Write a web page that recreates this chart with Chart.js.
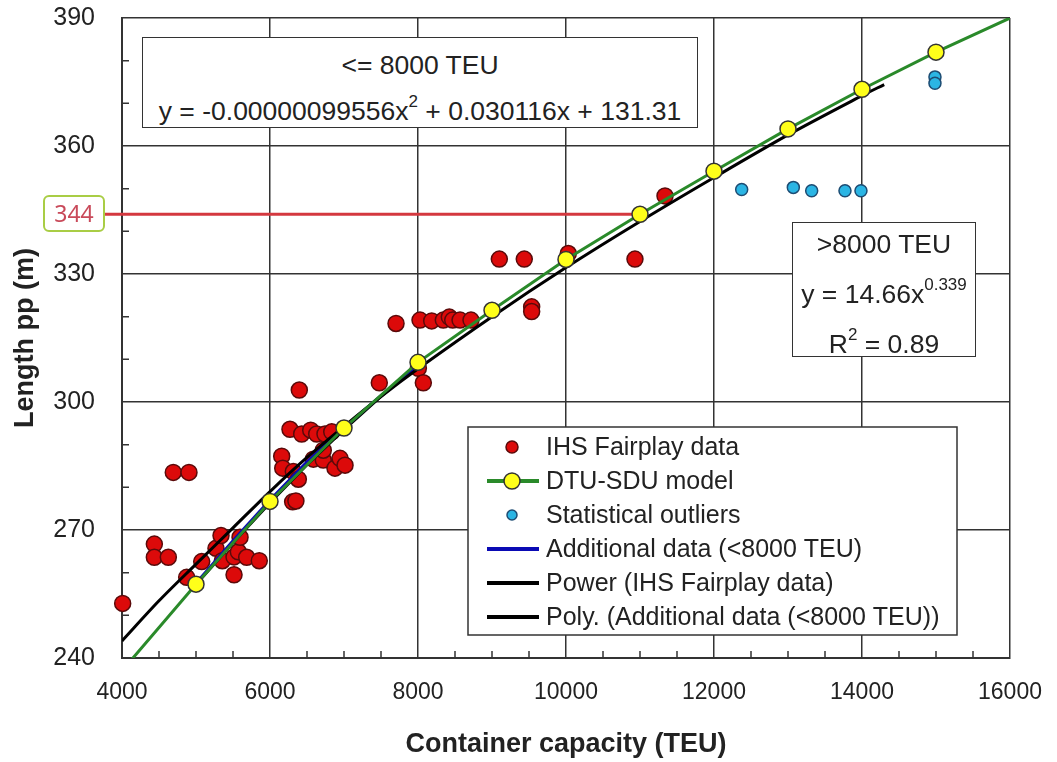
<!DOCTYPE html>
<html>
<head>
<meta charset="utf-8">
<title>Length pp vs container capacity</title>
<script src="https://cdn.jsdelivr.net/npm/chart.js@4.4.1/dist/chart.umd.min.js"></script>
<style>
  html, body { margin: 0; padding: 0; background: #fff; }
  #wrap { position: relative; width: 1057px; height: 762px; font-family: "Liberation Sans", Arial, sans-serif; }
  #chart { position: absolute; left: 0; top: 0; }
  .note { position: absolute; background: #fff; border: 1.5px solid #333; color: #222; font-size: 26.5px; text-align: center; box-sizing: border-box; white-space: nowrap; }
  .note sup { font-size: 17px; position: relative; top: -3px; }
  #note1 { left: 142px; top: 37px; width: 556px; height: 91px; line-height: 40px; padding-top: 7px; }
  #note2 { left: 792px; top: 222px; width: 184px; height: 135px; line-height: 43px; padding-top: 0; }
  #lbl344 { position: absolute; left: 43px; top: 195px; width: 62px; height: 37px; box-sizing: border-box;
            border: 2.5px solid #a9cd45; border-radius: 6px; color: #c94a5a;
            font: 23px "Noto Sans", sans-serif; text-align: center; line-height: 32px; }
</style>
</head>
<body>
<div id="wrap">
  <canvas id="chart" width="1057" height="762"></canvas>
  <div class="note" id="note1">&lt;= 8000 TEU<br>y = -0.00000099556x<sup>2</sup> + 0.030116x + 131.31</div>
  <div class="note" id="note2">&gt;8000 TEU<br>y = 14.66x<sup>0.339</sup><br>R<sup>2</sup> = 0.89</div>
  <div id="lbl344">344</div>
</div>
<script>
// ---- data ----
const ihsTEU = [4009, 4437, 4437, 4626, 4693, 4905, 4874, 5077, 5270, 5338, 5356, 5514, 5514, 5572, 5595, 5685, 5855,
  6158, 6172, 6270, 6306, 6350, 6315, 6383, 6396, 6428, 6550, 6586, 6631, 6720, 6720, 6743, 6834, 6878, 6946, 7014,
  7477, 7703, 8005, 8027, 8072, 8185, 8342, 8423, 8469, 8568, 8716, 9099, 9436, 9536, 9536, 10031, 10932, 11338];
const ihsLength = [252.8, 266.7, 263.6, 263.6, 283.5, 283.5, 258.9, 262.6, 265.7, 268.7, 262.8, 263.7, 259.5, 264.9, 268.3, 263.6, 262.8,
  287.3, 284.5, 293.6, 276.6, 276.8, 283.7, 281.9, 302.8, 292.5, 293.4, 286.6, 292.5, 286.4, 288.7, 292.5, 293.0, 284.5, 286.8, 285.2,
  304.5, 318.4, 307.9, 319.2, 304.5, 319.0, 319.2, 319.9, 319.2, 319.2, 319.2, 333.5, 333.5, 322.3, 321.2, 334.8, 333.5, 348.3];

const modelTEU = [4000, 5000, 6000, 7000, 8000, 9000, 10000, 11000, 12000, 13000, 14000, 15000, 16000];
const modelLength = [237, 257.3, 276.7, 293.9, 309.3, 321.5, 333.4, 344, 354.1, 364, 373.3, 382, 390];

const outlierTEU = [12374, 13072, 13320, 13770, 13986, 14986, 14986];
const outlierLength = [349.8, 350.3, 349.5, 349.5, 349.5, 376.2, 374.7];

const addTEU = [5000, 5500, 6000, 6500, 7000, 7500, 8000];
const addLength = [257.5, 267.5, 277, 286, 294, 301.5, 308.5];

const powerTEU = [4000, 4500, 5000, 5500, 6000, 6500, 7000, 7500, 8000, 9000, 10000, 11000, 12000, 13000, 14000, 14300];
const powerLength = [244, 253.4, 262, 270.5, 279, 287, 294.3, 301.3, 307.8, 320, 331.5, 342.3, 352.6, 362.6, 371.8, 374.4];

const polyTEU = [5000, 5500, 6000, 6500, 7000, 7500, 8000];
const polyLength = [257.2, 267, 276.4, 285.3, 293.5, 301.3, 308.6];

const refTEU = 11000;
const refLength = 344;

const xMin = 4000, xMax = 16000, xMajor = 2000, xMinor = 500;
const yMin = 240, yMax = 390, yMajor = 30, yMinor = 10;

const legendOrder = [0, 1, 2, 3, 4, 5];

function pts(xs, ys) { return xs.map((x, i) => ({ x, y: ys[i] })); }

// ---- plugins ----
const minorTicks = {
  id: 'minorTicks',
  beforeDatasetsDraw(chart) {
    const { ctx, chartArea, scales } = chart;
    ctx.save();
    ctx.strokeStyle = '#333';
    ctx.lineWidth = 1.5;
    ctx.beginPath();
    scales.x.ticks.forEach(t => {
      if (t.value % xMajor === 0) return;
      const px = scales.x.getPixelForValue(t.value);
      ctx.moveTo(px, chartArea.bottom);
      ctx.lineTo(px, chartArea.bottom - 7);
    });
    scales.y.ticks.forEach(t => {
      if ((t.value - yMin) % yMajor === 0) return;
      const py = scales.y.getPixelForValue(t.value);
      ctx.moveTo(chartArea.left, py);
      ctx.lineTo(chartArea.left + 7, py);
    });
    ctx.stroke();
    ctx.restore();
  }
};

const refLine = {
  id: 'refLine',
  beforeDatasetsDraw(chart) {
    const { ctx, scales } = chart;
    const py = scales.y.getPixelForValue(refLength);
    const px = scales.x.getPixelForValue(refTEU);
    ctx.save();
    ctx.strokeStyle = '#d4383f';
    ctx.lineWidth = 3;
    ctx.beginPath();
    ctx.moveTo(105, py);
    ctx.lineTo(px, py);
    ctx.stroke();
    ctx.restore();
  }
};

const boxLegend = {
  id: 'boxLegend',
  afterDraw(chart) {
    const { ctx } = chart;
    const left = 468, top = 427, right = 957, bottom = 635;
    ctx.save();
    ctx.fillStyle = '#fff';
    ctx.fillRect(left, top, right - left, bottom - top);
    ctx.strokeStyle = '#333';
    ctx.lineWidth = 1.5;
    ctx.strokeRect(left, top, right - left, bottom - top);
    ctx.font = '25px "Liberation Sans", Arial, sans-serif';
    ctx.textBaseline = 'middle';
    legendOrder.forEach((idx, i) => {
      const ds = chart.data.datasets[idx];
      const y = top + 20 + i * 34;
      if (ds.showLine) {
        ctx.strokeStyle = ds.borderColor;
        ctx.lineWidth = 4;
        ctx.beginPath();
        ctx.moveTo(487, y);
        ctx.lineTo(539, y);
        ctx.stroke();
      }
      if (ds.legendRadius) {
        ctx.beginPath();
        ctx.arc(512, y, ds.legendRadius, 0, Math.PI * 2);
        ctx.fillStyle = ds.pointBackgroundColor;
        ctx.fill();
        ctx.strokeStyle = ds.pointBorderColor;
        ctx.lineWidth = 1.5;
        ctx.stroke();
      }
      ctx.fillStyle = '#222';
      ctx.fillText(ds.label, 546, y + 1);
    });
    ctx.restore();
  }
};

// ---- chart ----
const xTickFont = { family: '"Liberation Sans", Arial, sans-serif', size: 23 };
const yTickFont = { family: '"Liberation Sans", Arial, sans-serif', size: 25 };
const titleFont = { family: '"Liberation Sans", Arial, sans-serif', size: 27, weight: 'bold' };

new Chart(document.getElementById('chart'), {
  type: 'scatter',
  data: {
    datasets: [
      { label: 'IHS Fairplay data', data: pts(ihsTEU, ihsLength), order: 6, clip: false,
        pointRadius: 8, pointBackgroundColor: '#dc0a0a', pointBorderColor: '#5a0a0a', pointBorderWidth: 1.5,
        legendRadius: 6 },
      { label: 'DTU-SDU model', data: pts(modelTEU, modelLength), order: 0, showLine: true,
        borderColor: '#2a8a2a', borderWidth: 3,
        pointRadius: modelTEU.map((x, i) => (i === 0 || i === modelTEU.length - 1) ? 0 : 8),
        pointBackgroundColor: '#ffff1a', pointBorderColor: '#333', pointBorderWidth: 1.5,
        legendRadius: 8 },
      { label: 'Statistical outliers', data: pts(outlierTEU, outlierLength), order: 5,
        pointRadius: 6, pointBackgroundColor: '#2bb5e4', pointBorderColor: '#1d4c73', pointBorderWidth: 1.5,
        legendRadius: 5 },
      { label: 'Additional data (<8000 TEU)', data: pts(addTEU, addLength), order: 3, showLine: true,
        borderColor: '#0a0ab4', borderWidth: 3, pointRadius: 0 },
      { label: 'Power (IHS Fairplay data)', data: pts(powerTEU, powerLength), order: 1, showLine: true,
        borderColor: '#000', borderWidth: 3, pointRadius: 0, tension: 0.3 },
      { label: 'Poly. (Additional data (<8000 TEU))', data: pts(polyTEU, polyLength), order: 4, showLine: true,
        borderColor: '#000', borderWidth: 3, pointRadius: 0 }
    ]
  },
  options: {
    responsive: false,
    devicePixelRatio: 1,
    animation: false,
    layout: { padding: { top: 18, right: 47, left: 0, bottom: 0 } },
    plugins: { legend: { display: false }, tooltip: { enabled: false } },
    scales: {
      x: {
        type: 'linear', min: xMin, max: xMax,
        afterFit: s => { s.height = 104; s.paddingLeft = 0; s.paddingRight = 0; },
        border: { color: '#333', width: 2 },
        grid: { drawTicks: false, lineWidth: 1.5,
                color: c => (c.tick && c.tick.value % xMajor === 0) ? '#333' : 'rgba(0,0,0,0)' },
        ticks: { stepSize: xMinor, autoSkip: false, maxRotation: 0, padding: 21, color: '#222', font: xTickFont,
                 callback: v => v % xMajor === 0 ? String(v) : '' },
        title: { display: true, text: 'Container capacity (TEU)', color: '#222', font: titleFont,
                 padding: { top: 0, bottom: 1 } }
      },
      y: {
        type: 'linear', min: yMin, max: yMax,
        afterFit: s => { s.width = 122; s.paddingTop = 0; s.paddingBottom = 0; },
        border: { color: '#333', width: 2 },
        grid: { drawTicks: false, lineWidth: 1.5,
                color: c => (c.tick && (c.tick.value - yMin) % yMajor === 0) ? '#333' : 'rgba(0,0,0,0)' },
        ticks: { stepSize: yMinor, autoSkip: false, padding: 27, color: '#222', font: yTickFont,
                 callback: v => (v - yMin) % yMajor === 0 ? String(v) : '' },
        title: { display: true, text: 'Length pp (m)', color: '#222', font: titleFont,
                 padding: { top: 9, bottom: 0 } }
      }
    }
  },
  plugins: [minorTicks, refLine, boxLegend]
});
</script>
</body>
</html>
